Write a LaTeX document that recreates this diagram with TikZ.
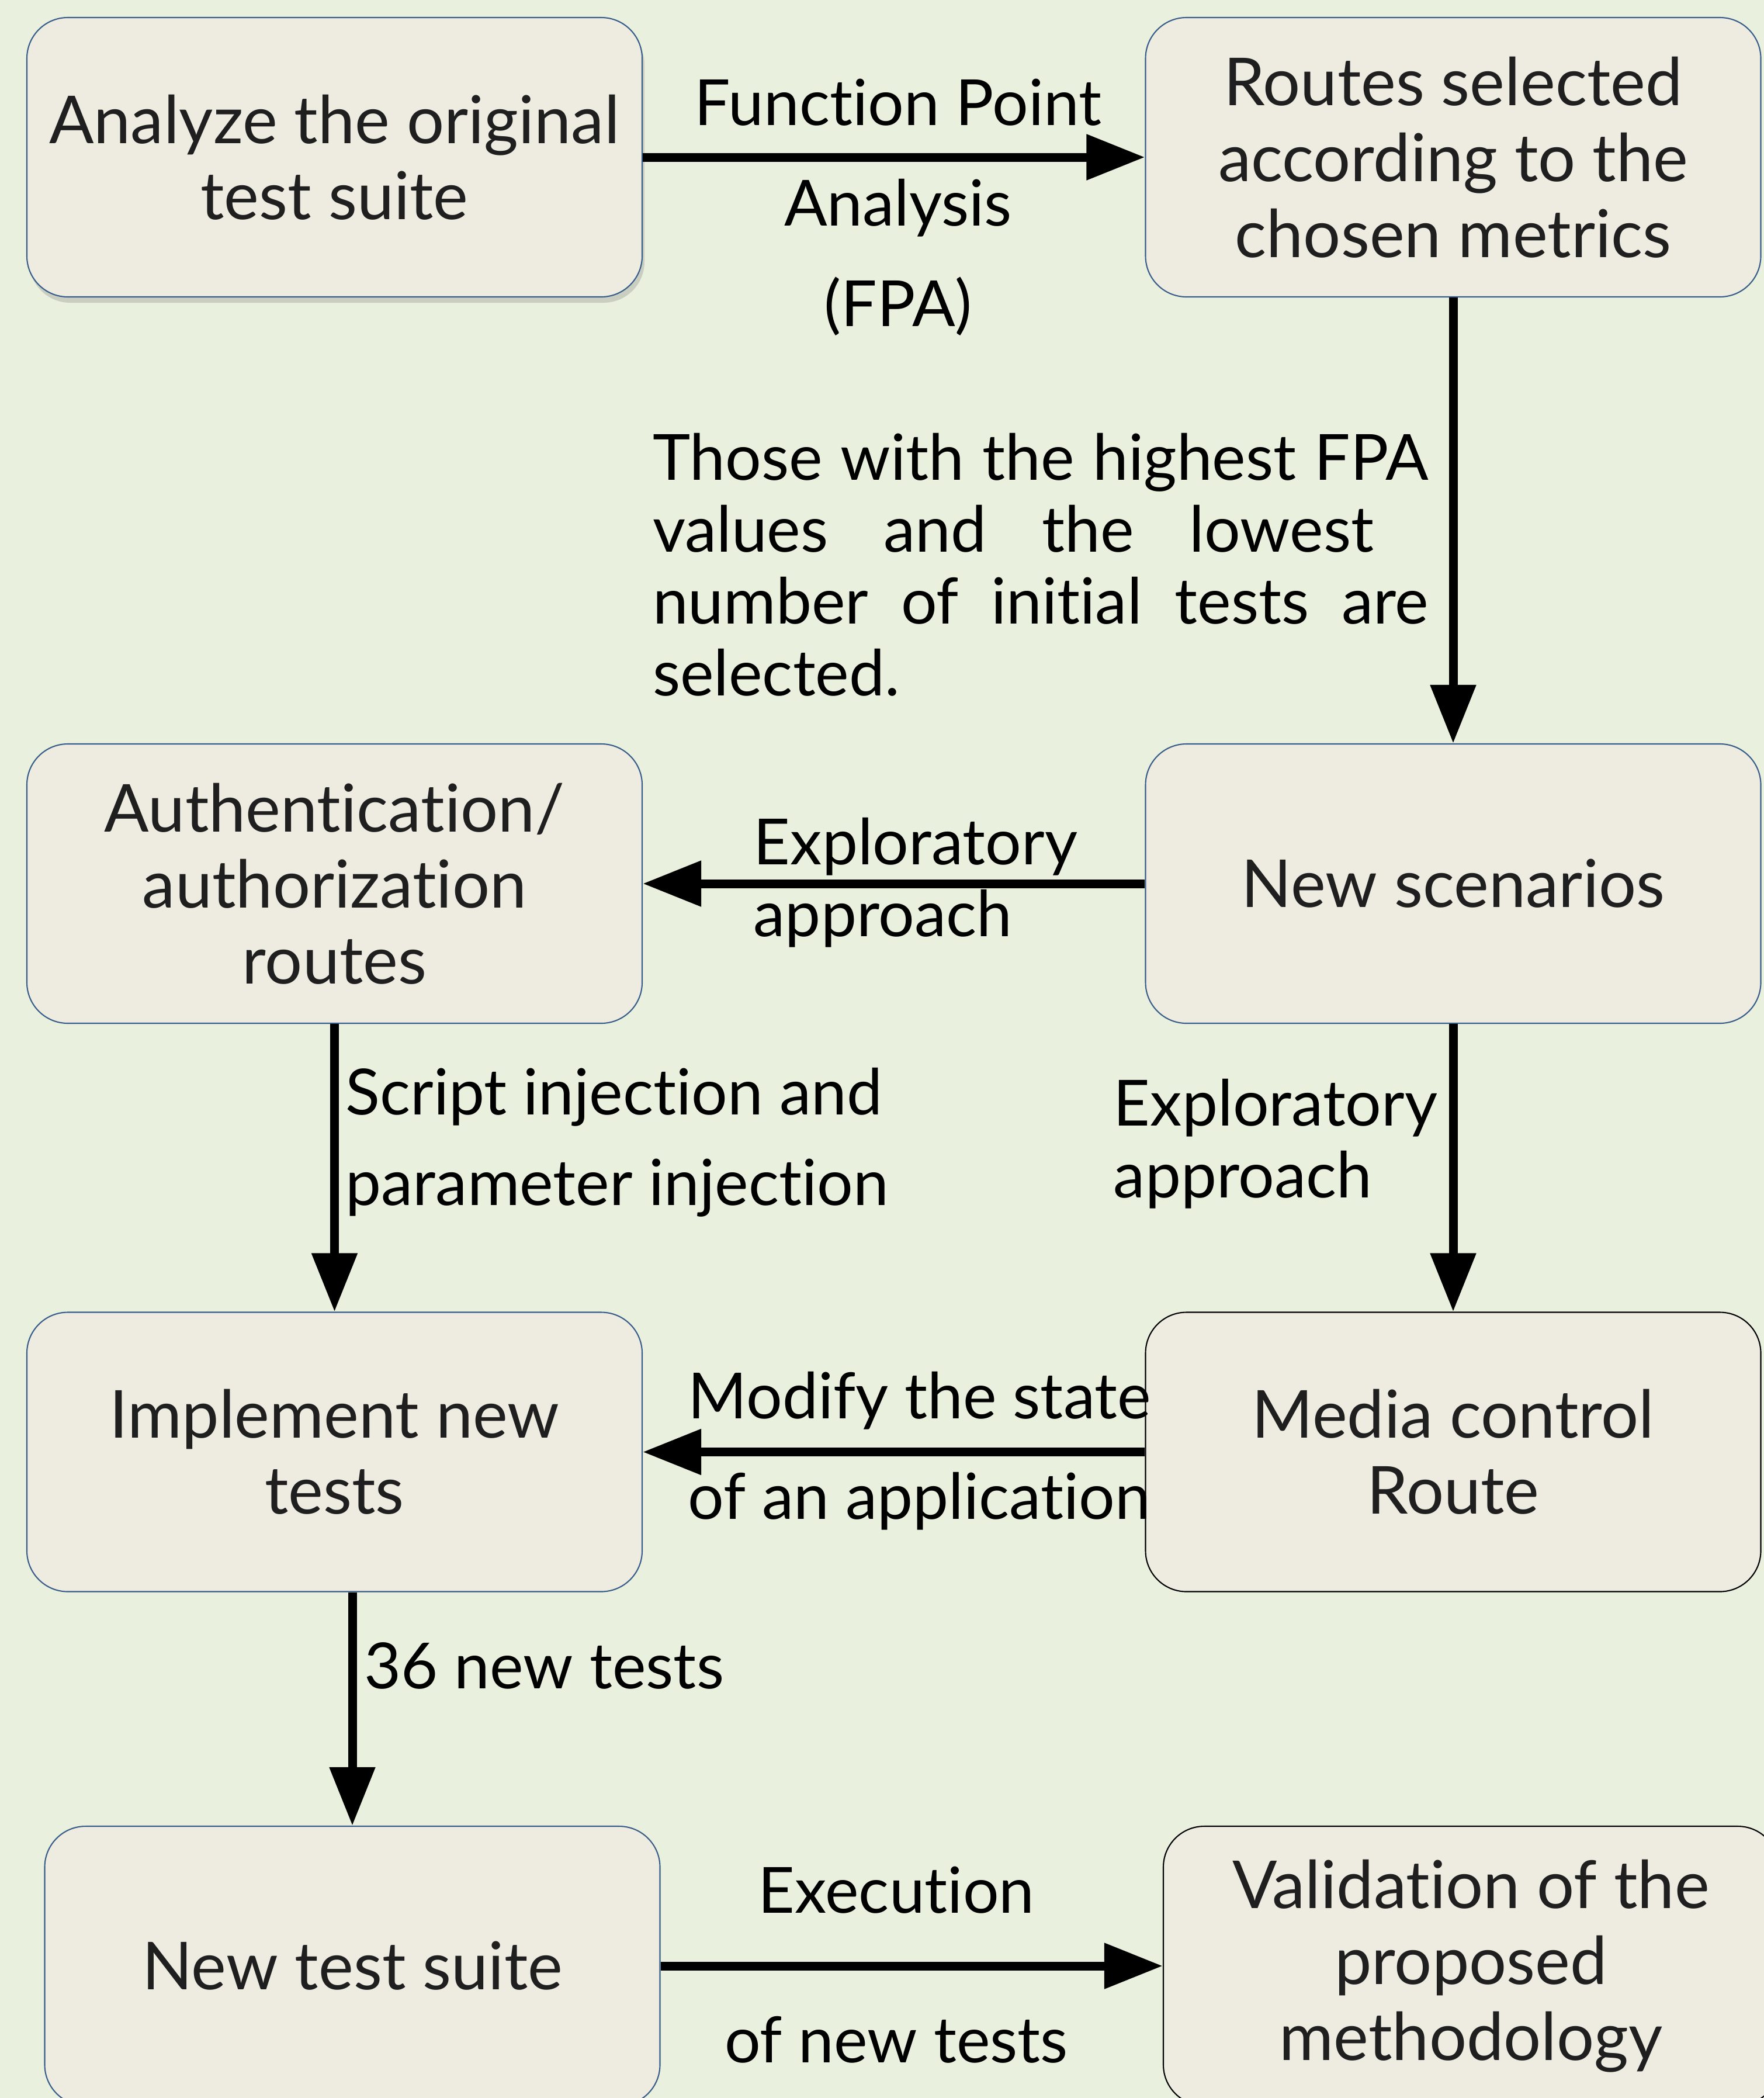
\documentclass[tikz,border=0pt]{standalone}
\usepackage{fontspec}
\setmainfont{Lato}[Ligatures=CommonOff]
\usetikzlibrary{arrows.meta, shadows}

\definecolor{bgGreen}{RGB}{233,241,222}
\definecolor{boxFill}{RGB}{238,236,225}
\definecolor{boxBlue}{RGB}{56,93,138}

% font size with a given leading
\newcommand{\lblfont}[1]{\fontsize{31}{#1}\selectfont}

\begin{document}
\begin{tikzpicture}
    [>={Triangle[length=1cm,width=0.75cm]},
     box/.style={rectangle,rounded corners=0.7cm,draw=boxBlue,fill=boxFill,line width=0.6pt,
                 minimum width=10.53cm,minimum height=4.78cm,align=center,text=black!88,
                 font=\fontsize{32.2}{37}\selectfont},
     boxdark/.style={box,draw=black},
     lbl/.style={inner sep=0pt,font=\lblfont{35}},
     flow/.style={->,line width=0.15cm}]
    \useasboundingbox (0,0) rectangle (30.19,-35.90);
    \clip (0,0) rectangle (30.19,-35.90);
    \fill[bgGreen] (0,0) rectangle (30.19,-35.90);

    \node (A) at (5.725,-2.69) [box, drop shadow={opacity=0.3,shadow xshift=0.04cm,shadow yshift=-0.1cm}]
        {Analyze the original\\test suite};
    \node (R) at (24.87,-2.69) [box] {Routes selected\\according to the\\chosen metrics};
    \node (Au) at (5.725,-15.12) [box] {Authentication/\\authorization\\routes};
    \node (S) at (24.87,-15.12) [box] {New scenarios};
    \node (I) at (5.725,-24.845) [box] {Implement new\\tests};
    \node (M) at (24.87,-24.845) [boxdark] {Media control\\Route};
    \node (T) at (6.03,-33.64) [box] {New test suite};
    \node (V) at (25.175,-33.64) [boxdark] {Validation of the\\proposed\\methodology};

    % edge labels
    \node (fpa) at (15.37,-3.55) [lbl, align=center, font=\lblfont{49}] {Function Point\\Analysis\\(FPA)};
    \node (sel) at (17.81,-9.66) [lbl, align=left]
        {\makebox[13.28cm][s]{Those with the highest FPA}\\
         \makebox[12.34cm][s]{values and the lowest}\\
         \makebox[13.28cm][s]{number of initial tests are}\\
         selected.};
    \node (ex1) at (15.67,-15.1) [lbl, align=left] {Exploratory\\approach};
    \node (ex2) at (24.61,-19.57) [lbl, anchor=east, align=left] {Exploratory\\approach};
    \node (inj) at (5.91,-19.55) [lbl, anchor=west, align=left, font=\lblfont{44}]
        {Script injection and\\parameter injection};
    \node (mod) at (11.77,-24.83) [lbl, anchor=west, align=left, font=\lblfont{49}]
        {Modify the state\\of an application};
    \node (new) at (6.23,-28.5) [lbl, anchor=west] {36 new tests};
    \node (exe) at (15.34,-33.62) [lbl, align=center, font=\lblfont{73}] {Execution\\of new tests};

    \draw [flow] (A) -- (R);
    \draw [flow] (R) -- (S);
    \draw [flow] (S) -- (Au);
    \draw [flow] (Au) -- (I);
    \draw [flow] (S) -- (M);
    \draw [flow] (M) -- (I);
    \draw [flow] (I.south -| T.north) -- (T);
    \draw [flow] (T) -- (V);
\end{tikzpicture}
\end{document}
